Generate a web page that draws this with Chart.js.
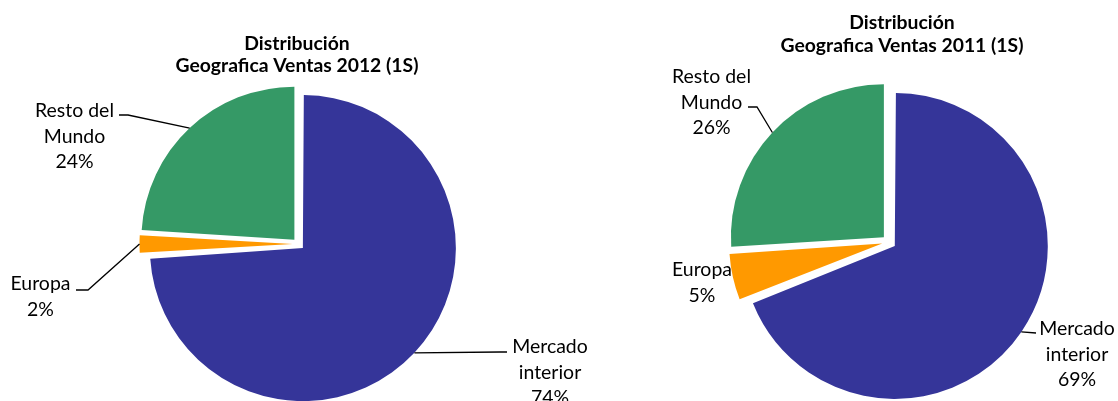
<!DOCTYPE html>
<html><head><meta charset="utf-8">
<script src="https://cdn.jsdelivr.net/npm/chart.js@4.4.0/dist/chart.umd.min.js"></script>
<style>
html,body{margin:0;padding:0;background:#fff;overflow:hidden;width:1118px;height:401px}
.box{position:absolute;top:0;height:401px}
</style></head><body>
<div class="box" style="left:0;width:620px"><canvas id="c1"></canvas></div>
<div class="box" style="left:620px;width:498px"><canvas id="c2"></canvas></div>
<script>
// ---- data ----
const categories = ['Mercado interior', 'Europa', 'Resto del Mundo'];
const labelLines = [['Mercado', 'interior'], ['Europa'], ['Resto del', 'Mundo']];
const values2012 = [74, 2, 24];
const values2011 = [69, 5, 26];
const title2012 = ['Distribución', 'Geografica Ventas 2012 (1S)'];
const title2011 = ['Distribución', 'Geografica Ventas 2011 (1S)'];
const sliceColors = ['#353599', '#FF9900', '#359966'];

const FONT = 'Lato, "Open Sans", sans-serif';
// fit font sizes to Calibri-like metrics
function fitSize(text, target, bold) {
  const c = document.createElement('canvas').getContext('2d');
  c.font = (bold ? 'bold ' : '') + '20px ' + FONT;
  return 20 * target / c.measureText(text).width;
}
const labelSize = fitSize('Resto del', 79, false);
const titleSize = fitSize('Geografica Ventas 2012 (1S)', 243, true);

const labelPlugin = {
  id: 'excelLabels',
  afterDatasetsUpdate(chart) {
    const o = chart.options.plugins.excelLabels;
    const meta = chart.getDatasetMeta(0);
    meta.data.forEach(arc => {
      const off = (arc.options.offset || 0) / 4;
      const circ = arc.endAngle - arc.startAngle;
      const fix = 1 - Math.sin(Math.min(Math.PI, circ));
      arc.outerRadius = o.radius - off * fix;
    });
  },
  afterDraw(chart) {
    const o = chart.options.plugins.excelLabels;
    const ctx = chart.ctx;
    const meta = chart.getDatasetMeta(0);
    const data = chart.data.datasets[0].data;
    const total = data.reduce((a, b) => a + b, 0);
    ctx.save();
    ctx.fillStyle = '#000';
    ctx.textAlign = 'center';
    ctx.textBaseline = 'alphabetic';
    ctx.font = 'bold ' + titleSize.toFixed(2) + 'px ' + FONT;
    o.title.forEach((t, k) => ctx.fillText(t, o.titleX, o.titleY + k * o.titleLH));
    ctx.font = labelSize.toFixed(2) + 'px ' + FONT;
    ctx.strokeStyle = '#000';
    ctx.lineWidth = 1.3;
    meta.data.forEach((arc, i) => {
      const L = o.labels[i];
      const lines = [...labelLines[i], Math.round(data[i] / total * 100) + '%'];
      lines.forEach((t, k) => ctx.fillText(t, L.x, L.y + k * o.lh));
      if (L.leader) {
        const mid = (arc.startAngle + arc.endAngle) / 2;
        const off = (arc.options.offset || 0) / 4;
        const px = arc.x + Math.cos(mid) * (off + o.radius);
        const py = arc.y + Math.sin(mid) * (off + o.radius);
        ctx.beginPath();
        ctx.moveTo(px, py);
        L.leader.forEach(p => ctx.lineTo(p[0], p[1]));
        ctx.stroke();
      }
    });
    ctx.restore();
  }
};

function makeChart(id, values, title, padding, offset, lab) {
  return new Chart(document.getElementById(id), {
    type: 'pie',
    data: {
      labels: categories,
      datasets: [{
        data: values,
        backgroundColor: sliceColors,
        borderWidth: 0,
        offset: offset,
        hoverOffset: 0
      }]
    },
    options: {
      responsive: true,
      maintainAspectRatio: false,
      animation: false,
      events: [],
      radius: 153,
      layout: { padding: padding },
      plugins: {
        legend: { display: false },
        tooltip: { enabled: false },
        excelLabels: lab
      }
    },
    plugins: [labelPlugin]
  });
}

makeChart('c1', values2012, title2012, { left: 0, right: 23, top: 87, bottom: 0 }, 24, {
  radius: 153, title: title2012, titleX: 297, titleY: 50, titleLH: 22, lh: 25.5,
  labels: [
    { x: 550, y: 353, leader: [[500, 352], [507, 352]] },
    { x: 40.5, y: 290, leader: [[88, 290], [76, 290]] },
    { x: 74.5, y: 117, leader: [[128, 115], [119, 115]] }
  ]
});

makeChart('c2', values2011, title2011, { left: 40, right: 0, top: 83, bottom: 0 }, 28, {
  radius: 153, title: title2011, titleX: 282, titleY: 29, titleLH: 23, lh: 25.5,
  labels: [
    { x: 457, y: 335, leader: [[416, 333]] },
    { x: 82, y: 276, leader: null },
    { x: 91.5, y: 83, leader: [[137, 107], [128, 107]] }
  ]
});
</script>
</body></html>
